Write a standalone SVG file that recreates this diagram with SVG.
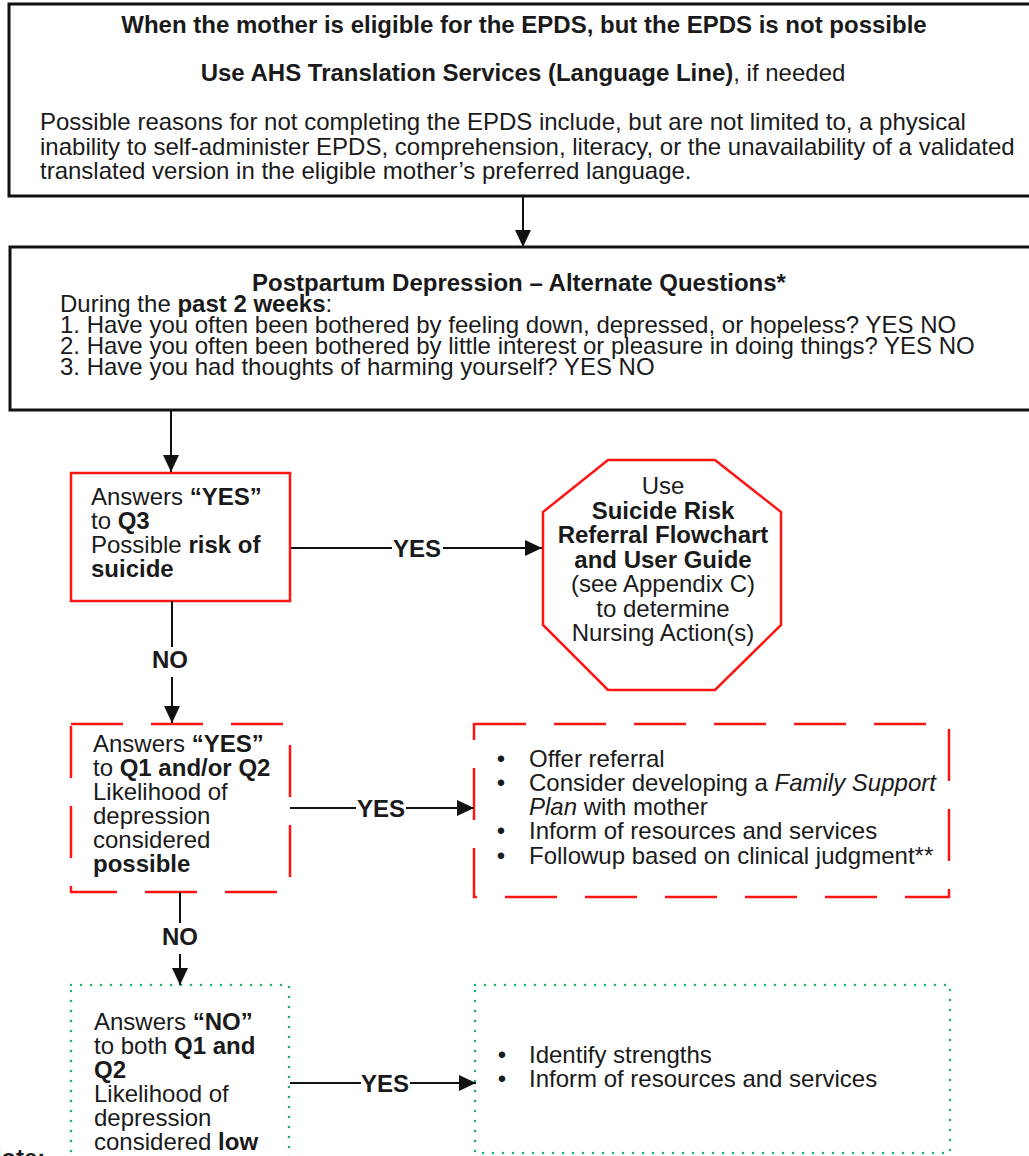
<svg xmlns="http://www.w3.org/2000/svg" width="1029" height="1156" viewBox="0 0 1029 1156">
<style>
text{font-family:"Liberation Sans",Arial,sans-serif;font-size:24px;fill:#1a1a1a}
.b{font-weight:bold}
.i{font-style:italic}
.c{text-anchor:middle}
.box{fill:#fff;stroke:#111;stroke-width:3}
.red{fill:#fff;stroke:#ff1414;stroke-width:2.5}
.dash{fill:#fff;stroke:#ff1414;stroke-width:2.5;stroke-dasharray:52 28}
.dot{fill:#fff;stroke:#20b070;stroke-width:2.6;stroke-dasharray:0 10;stroke-linecap:round}
.ln{stroke:#111;stroke-width:2;fill:none}
</style>
<defs>
<marker id="ah" markerUnits="userSpaceOnUse" markerWidth="17" markerHeight="16" refX="17" refY="8" orient="auto">
<path d="M0,0 L17,8 L0,16 z" fill="#111"/>
</marker>
</defs>
<rect width="1029" height="1156" fill="#fff"/>

<g id="node-intro">
<rect class="box" x="9" y="4" width="1040" height="192"/>
<text class="c b" x="524" y="33">When the mother is eligible for the EPDS, but the EPDS is not possible</text>
<text class="c" x="523" y="81"><tspan class="b">Use AHS Translation Services (Language Line)</tspan>, if needed</text>
<text x="40" y="130">Possible reasons for not completing the EPDS include, but are not limited to, a physical</text>
<text x="40" y="155">inability to self-administer EPDS, comprehension, literacy, or the unavailability of a validated</text>
<text x="40" y="179">translated version in the eligible mother’s preferred language.</text>
</g>

<g id="node-questions">
<rect class="box" x="10" y="247" width="1040" height="163"/>
<text class="c b" x="519" y="291">Postpartum Depression – Alternate Questions*</text>
<text x="60" y="312">During the <tspan class="b">past 2 weeks</tspan>:</text>
<text x="60" y="333">1. Have you often been bothered by feeling down, depressed, or hopeless? YES NO</text>
<text x="60" y="354">2. Have you often been bothered by little interest or pleasure in doing things? YES NO</text>
<text x="60" y="375">3. Have you had thoughts of harming yourself? YES NO</text>
</g>

<g id="node-q3">
<rect class="red" x="71" y="473" width="219" height="128"/>
<text x="91" y="505">Answers <tspan class="b">“YES”</tspan></text>
<text x="91" y="529">to <tspan class="b">Q3</tspan></text>
<text x="91" y="553">Possible <tspan class="b">risk of</tspan></text>
<text x="91" y="577" class="b">suicide</text>
</g>

<g id="node-suicide">
<polygon class="red" points="608,460 715,460 781,512 781,625 715,690 608,690 543,625 543,512"/>
<text class="c" x="663" y="494">Use</text>
<text class="c b" x="663" y="518.5">Suicide Risk</text>
<text class="c b" x="663" y="543">Referral Flowchart</text>
<text class="c b" x="663" y="567.5">and User Guide</text>
<text class="c" x="663" y="592">(see Appendix C)</text>
<text class="c" x="663" y="616.5">to determine</text>
<text class="c" x="663" y="641">Nursing Action(s)</text>
</g>

<g id="node-q12">
<rect class="dash" x="71" y="724" width="219" height="168"/>
<text x="93" y="752">Answers <tspan class="b">“YES”</tspan></text>
<text x="93" y="776">to <tspan class="b">Q1 and/or Q2</tspan></text>
<text x="93" y="800">Likelihood of</text>
<text x="93" y="824">depression</text>
<text x="93" y="848">considered</text>
<text x="93" y="872" class="b">possible</text>
</g>

<g id="node-possible-actions">
<rect class="dash" x="474" y="724" width="475" height="173"/>
<text class="c" x="501" y="767">•</text>
<text x="529" y="767">Offer referral</text>
<text class="c" x="501" y="791">•</text>
<text x="529" y="791">Consider developing a <tspan class="i">Family Support</tspan></text>
<text x="529" y="815"><tspan class="i">Plan</tspan> with mother</text>
<text class="c" x="501" y="839">•</text>
<text x="529" y="839">Inform of resources and services</text>
<text class="c" x="501" y="864">•</text>
<text x="529" y="864">Followup based on clinical judgment**</text>
</g>

<g id="node-low">
<rect class="dot" x="71" y="985" width="218" height="200"/>
<text x="94" y="1030">Answers <tspan class="b">“NO”</tspan></text>
<text x="94" y="1054">to both <tspan class="b">Q1 and</tspan></text>
<text x="94" y="1078" class="b">Q2</text>
<text x="94" y="1102">Likelihood of</text>
<text x="94" y="1126">depression</text>
<text x="94" y="1150">considered <tspan class="b">low</tspan></text>
</g>

<g id="node-low-actions">
<rect class="dot" x="475" y="985" width="475" height="168"/>
<text class="c" x="502" y="1063">•</text>
<text x="529" y="1063">Identify strengths</text>
<text class="c" x="502" y="1087">•</text>
<text x="529" y="1087">Inform of resources and services</text>
</g>

<g id="note">
<text class="b" x="-16" y="1166">Note:</text>
</g>

<g id="connectors">
<line class="ln" x1="523" y1="196" x2="523" y2="247" marker-end="url(#ah)"/>
<line class="ln" x1="171" y1="410" x2="171" y2="472" marker-end="url(#ah)"/>
<line class="ln" x1="291" y1="548" x2="392" y2="548"/>
<text class="c b" x="417" y="556.5">YES</text>
<line class="ln" x1="443" y1="548" x2="542" y2="548" marker-end="url(#ah)"/>
<line class="ln" x1="172" y1="601" x2="172" y2="647"/>
<text class="c b" x="170" y="668">NO</text>
<line class="ln" x1="172" y1="677" x2="172" y2="723" marker-end="url(#ah)"/>
<line class="ln" x1="290" y1="808" x2="356" y2="808"/>
<text class="c b" x="381" y="816.5">YES</text>
<line class="ln" x1="406" y1="808" x2="474" y2="808" marker-end="url(#ah)"/>
<line class="ln" x1="180" y1="892" x2="180" y2="923"/>
<text class="c b" x="180" y="945">NO</text>
<line class="ln" x1="180" y1="954" x2="180" y2="985" marker-end="url(#ah)"/>
<line class="ln" x1="290" y1="1083" x2="361" y2="1083"/>
<text class="c b" x="385" y="1091.5">YES</text>
<line class="ln" x1="410" y1="1083" x2="476" y2="1083" marker-end="url(#ah)"/>
</g>
</svg>
